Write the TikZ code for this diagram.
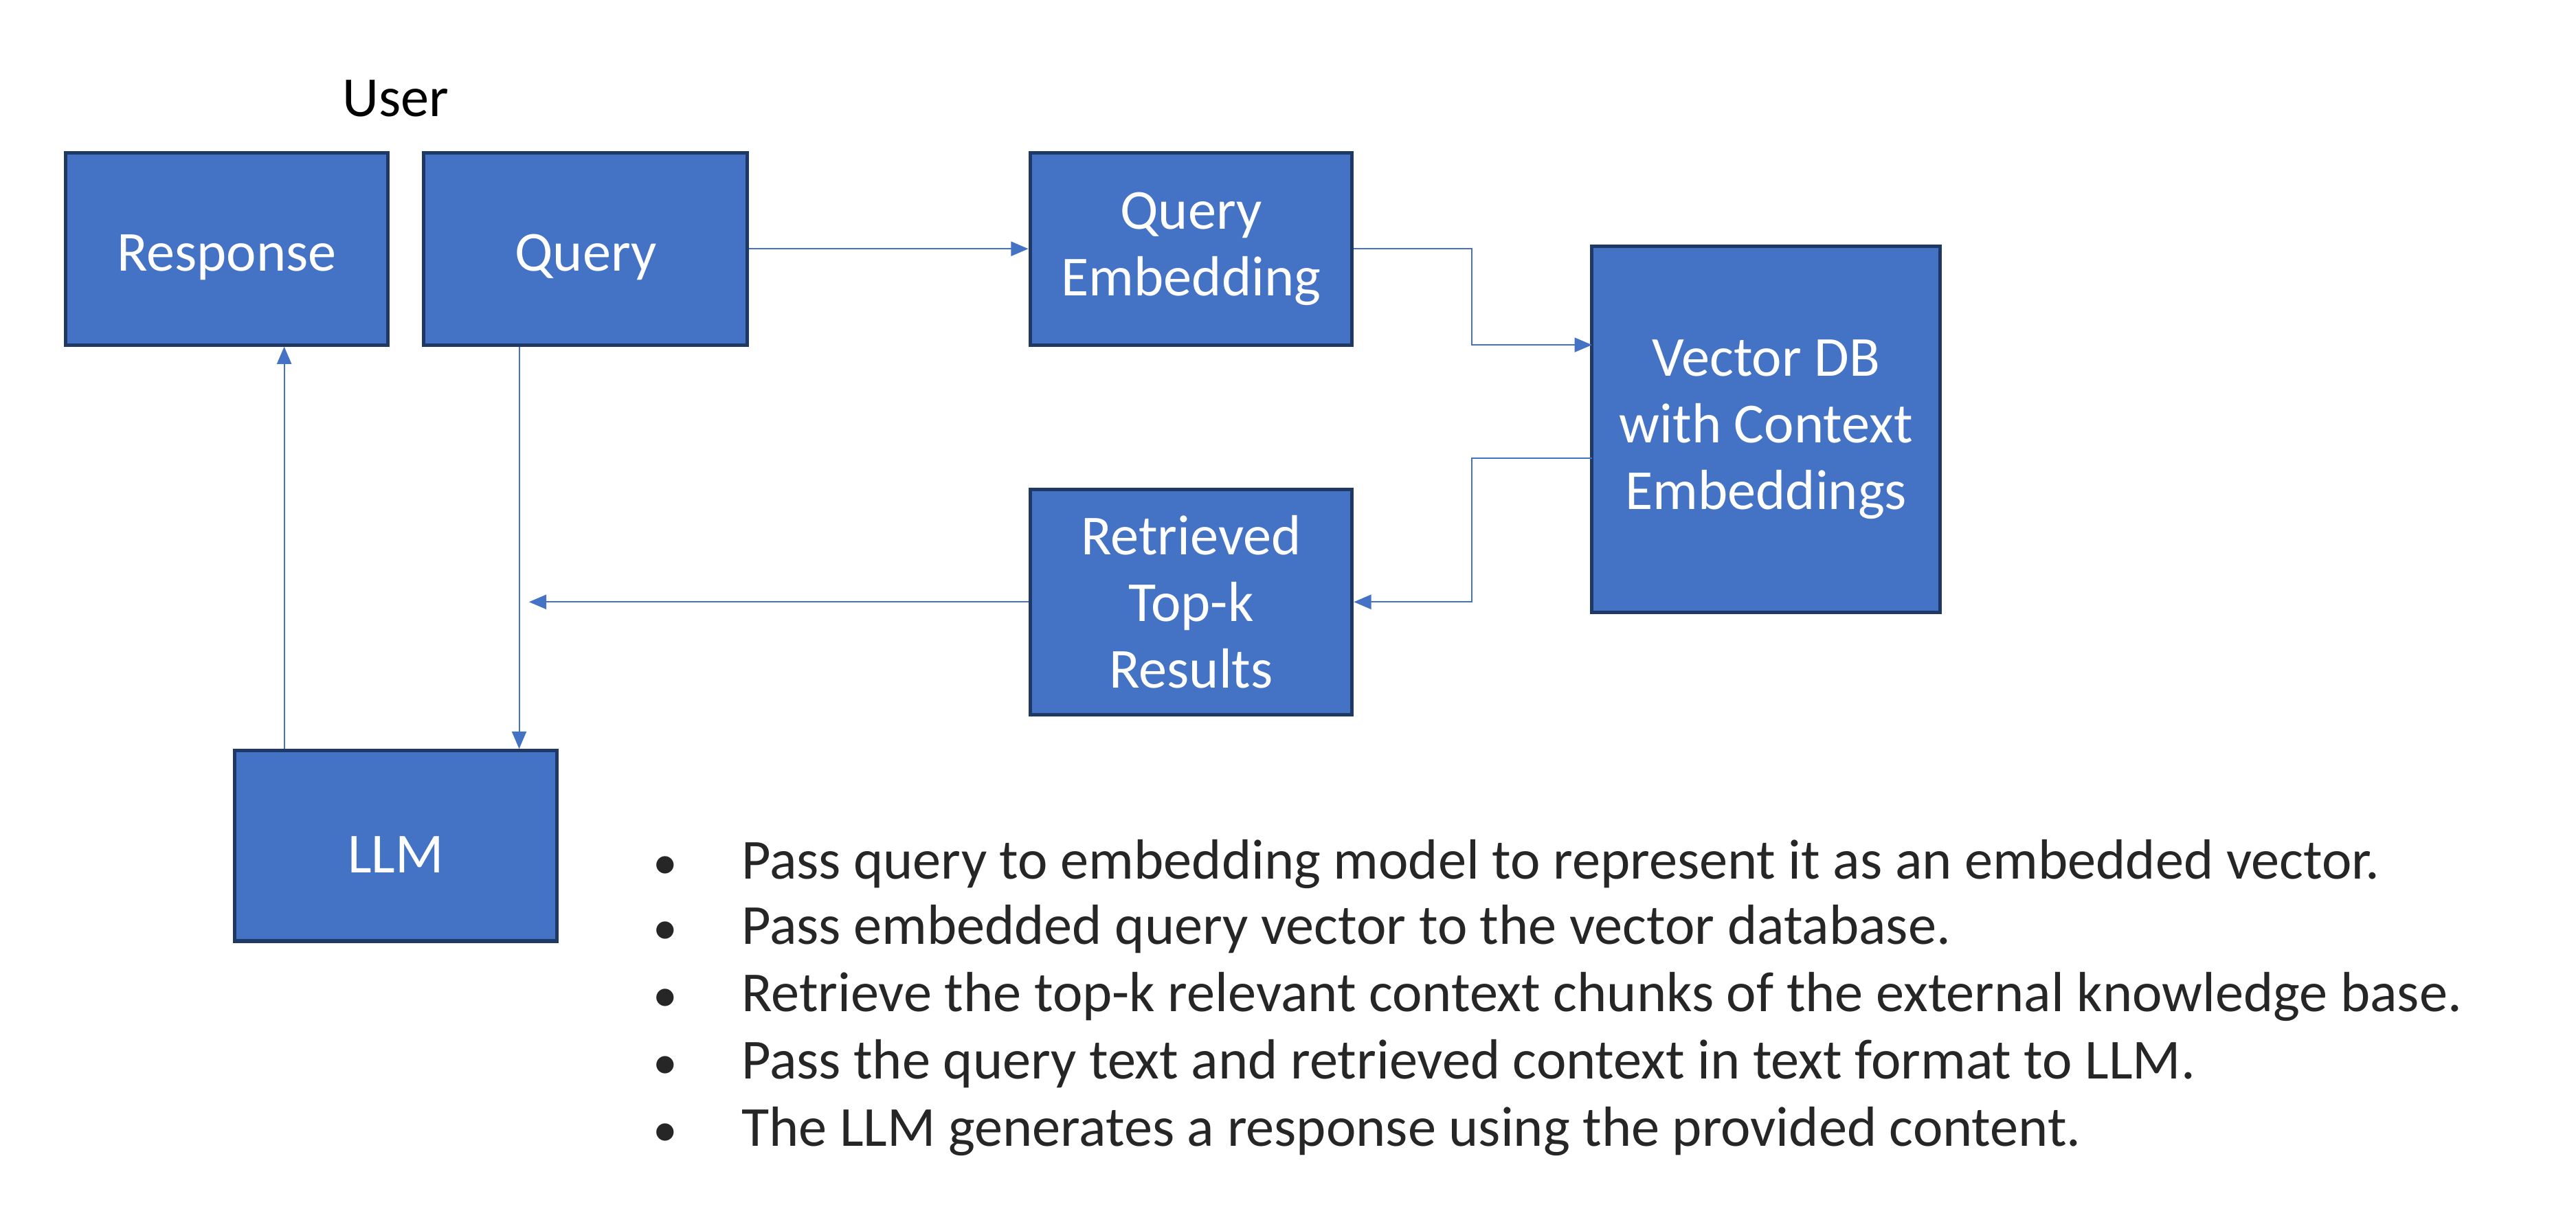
\documentclass[tikz,border=0pt]{standalone}
\usepackage{fontspec}
\setmainfont{Carlito}
\usepackage{xcolor}
\usetikzlibrary{positioning,arrows.meta,calc}
\definecolor{ragblue}{HTML}{4472C4}
\definecolor{ragedge}{HTML}{1F3864}
\definecolor{pointtext}{HTML}{262626}

\begin{document}
\begin{tikzpicture}[
    box/.style={draw=ragedge, line width=1.2pt, fill=ragblue, text=white, align=center,
        font=\fontsize{19.6}{23}\selectfont, inner sep=0pt,
        execute at begin node={\rule{0pt}{18.5pt}}},
    link/.style={draw=ragblue, line width=0.5pt, -{Triangle[length=6pt,width=5pt]}},
    point/.style={anchor=base west, text=pointtext, font=\fontsize{19.6}{23}\selectfont, inner sep=0pt},
    dot/.style={anchor=base, text=pointtext, font=\fontsize{17}{22}\selectfont, inner sep=0pt}
]
    \useasboundingbox (0,0) rectangle (31.36,14.72);

    % boxes
    \node[font=\fontsize{19.6}{23}\selectfont] (user) at (4.82, 13.52) {User};
    \node[box, minimum width=3.92cm, minimum height=2.34cm] (resp) at (2.76, 11.69) {Response};
    \node[box, minimum width=3.94cm, minimum height=2.34cm] (query) at (7.13, 11.69) {Query};
    \node[box, minimum width=3.92cm, minimum height=2.34cm] (qemb) at (14.5, 11.69) {Query\\Embedding};
    \node[box, minimum width=4.24cm, minimum height=4.46cm] (vdb) at (21.5, 9.49) {Vector DB\\with Context\\Embeddings};
    \node[box, minimum width=3.92cm, minimum height=2.74cm] (topk) at (14.5, 7.39) {Retrieved\\Top-k\\Results};
    \node[box, minimum width=3.92cm, minimum height=2.32cm] (llm) at (4.82, 4.42) {LLM};

    % connector ends
    \coordinate (dbin) at (21.5-2.12, 10.52);
    \coordinate (dbout) at (21.5-2.12, 9.14);
    \coordinate (merge) at (6.44, 7.39);

    \draw[link] (query.east) -- (qemb.west);
    \draw[link] (qemb.east) -- (17.92, 11.69) |- (dbin);
    \draw[link] (dbout) -- (17.92, 9.14) |- (topk.east);
    \draw[link] (topk.west) -- (merge);
    \draw[link] (query.south -| 6.32, 0) -- (llm.north -| 6.32, 0);
    \draw[link] (llm.north -| 3.46, 0) -- (resp.south -| 3.46, 0);

    % steps
    \node[dot] (d1) at (8.1, 4.02) {\textbullet};
    \node[dot] (d2) at (8.1, 3.22) {\textbullet};
    \node[dot] (d3) at (8.1, 2.40) {\textbullet};
    \node[dot] (d4) at (8.1, 1.58) {\textbullet};
    \node[dot] (d5) at (8.1, 0.76) {\textbullet};
    \node[point] (p1) at (9.02, 4.02) {Pass query to embedding model to represent it as an embedded vector.};
    \node[point] (p2) at (9.02, 3.22) {Pass embedded query vector to the vector database.};
    \node[point] (p3) at (9.02, 2.40) {Retrieve the top-k relevant context chunks of the external knowledge base.};
    \node[point] (p4) at (9.02, 1.58) {Pass the query text and retrieved context in text format to LLM.};
    \node[point] (p5) at (9.02, 0.76) {The LLM generates a response using the provided content.};
\end{tikzpicture}
\end{document}
